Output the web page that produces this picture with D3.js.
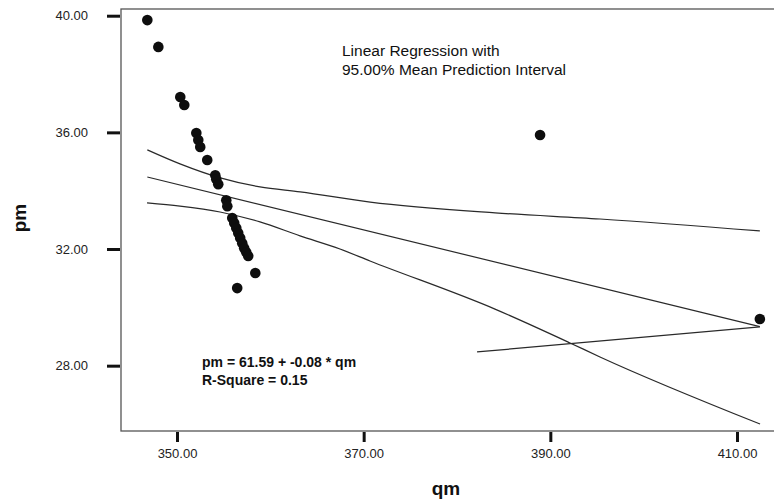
<!DOCTYPE html>
<html>
<head>
<meta charset="utf-8">
<script src="https://cdn.jsdelivr.net/npm/d3@7/dist/d3.min.js"></script>
<style>
  html, body { margin: 0; padding: 0; background: #fff; }
  svg { display: block; font-family: "Liberation Sans", Arial, sans-serif; }
</style>
</head>
<body>
<svg id="chart" width="774" height="503"></svg>
<script>
// Observations
const qmValues = [346.82, 348.00, 350.35, 350.78, 352.07, 352.28, 352.49, 353.24,
  354.10, 354.21, 354.42, 355.28, 355.39,
  355.92, 356.13, 356.35, 356.56, 356.77, 356.99, 357.20, 357.42, 357.63,
  358.39, 356.45, 388.90, 412.45];
const pmValues = [39.85, 38.93, 37.21, 36.94, 35.98, 35.74, 35.50, 35.05,
  34.53, 34.39, 34.22, 33.67, 33.47,
  33.06, 32.89, 32.72, 32.55, 32.38, 32.20, 32.03, 31.89, 31.76,
  31.18, 30.66, 35.91, 29.60];

// Fitted line pm = a + b * qm
const intercept = 61.59;
const slope = -0.0782;
const rSquare = 0.15;

// 95% mean prediction interval bounds
const upperQm = [346.82, 350.32, 354.64, 358.89, 363.20, 370.70, 384.08, 395.32, 412.45];
const upperPm = [35.40, 34.92, 34.44, 34.13, 33.96, 33.61, 33.24, 33.03, 32.62];
const lowerQm = [346.79, 350.32, 354.61, 358.89, 363.18, 367.46, 370.68, 384.07, 392.11, 395.32, 412.47];
const lowerPm = [33.58, 33.47, 33.27, 32.93, 32.45, 32.00, 31.59, 29.94, 28.78, 28.30, 26.00];

// Extra closing segment of the interval path
const closeQm = [382.15, 412.45];
const closePm = [28.47, 29.33];

// Axis ticks
const xTicks = [350, 370, 390, 410];
const yTicks = [28, 32, 36, 40];

const svg = d3.select("#chart");
const frame = { left: 121, right: 779, top: 9, bottom: 431 };

const x = d3.scaleLinear().domain([344.0, 414.5]).range([frame.left, frame.right]);
const y = d3.scaleLinear().domain([25.76, 40.23]).range([frame.bottom, frame.top]);

const ink = "#2a2a2a";

// Plot frame
svg.append("rect")
  .attr("x", frame.left).attr("y", frame.top)
  .attr("width", frame.right - frame.left).attr("height", frame.bottom - frame.top)
  .attr("fill", "none").attr("stroke", "#555").attr("stroke-width", 1.3);

// Y axis
const yAxis = svg.append("g")
  .attr("transform", `translate(${frame.left},0)`)
  .call(d3.axisLeft(y).tickValues(yTicks).tickFormat(d3.format(".2f"))
    .tickSize(14).tickPadding(19));
yAxis.select(".domain").remove();
yAxis.selectAll(".tick line").attr("stroke", "#111").attr("stroke-width", 3)
  .attr("x2", -14).attr("x1", -1);
yAxis.selectAll(".tick text").attr("font-size", 13).attr("fill", "#222")
  .attr("font-family", "Liberation Sans, Arial, sans-serif");

// X axis
const xAxis = svg.append("g")
  .attr("transform", `translate(0,${frame.bottom})`)
  .call(d3.axisBottom(x).tickValues(xTicks).tickFormat(d3.format(".2f"))
    .tickSize(11).tickPadding(7));
xAxis.select(".domain").remove();
xAxis.selectAll(".tick line").attr("stroke", "#111").attr("stroke-width", 3)
  .attr("y1", 1);
xAxis.selectAll(".tick text").attr("font-size", 13).attr("fill", "#222")
  .attr("font-family", "Liberation Sans, Arial, sans-serif");

// Axis titles
svg.append("text")
  .attr("x", 446).attr("y", 495)
  .attr("text-anchor", "middle")
  .attr("font-size", 19).attr("font-weight", "bold").attr("fill", "#111")
  .text("qm");
svg.append("text")
  .attr("transform", "translate(26,218) rotate(-90)")
  .attr("text-anchor", "middle")
  .attr("font-size", 19).attr("font-weight", "bold").attr("fill", "#111")
  .text("pm");

// Regression and interval lines
const line = d3.line().x(d => x(d[0])).y(d => y(d[1])).curve(d3.curveMonotoneX);
const zip = (a, b) => a.map((v, i) => [v, b[i]]);

const qmMin = d3.min(qmValues), qmMax = d3.max(qmValues);
const fitPts = [qmMin, qmMax].map(q => [q, intercept + slope * q]);

const lines = svg.append("g").attr("fill", "none").attr("stroke", ink).attr("stroke-width", 1.2);
lines.append("path").attr("d", line(zip(upperQm, upperPm)));
lines.append("path").attr("d", line(fitPts));
lines.append("path").attr("d", line(zip(lowerQm, lowerPm)));
lines.append("path").attr("d", d3.line().x(d => x(d[0])).y(d => y(d[1]))(zip(closeQm, closePm)));

// Points
svg.append("g").selectAll("circle")
  .data(zip(qmValues, pmValues))
  .join("circle")
  .attr("cx", d => x(d[0])).attr("cy", d => y(d[1]))
  .attr("r", 5.3).attr("fill", "#0e0e0e");

// Annotations
const note = svg.append("text").attr("font-size", 15.5).attr("fill", "#111");
note.append("tspan").attr("x", 342).attr("y", 56).text("Linear Regression with");
note.append("tspan").attr("x", 342).attr("y", 75).text("95.00% Mean Prediction Interval");

const eq = svg.append("text").attr("font-size", 14).attr("font-weight", "bold").attr("fill", "#111");
eq.append("tspan").attr("x", 202).attr("y", 367)
  .text(`pm = ${intercept.toFixed(2)} + ${slope.toFixed(2)} * qm`);
eq.append("tspan").attr("x", 202).attr("y", 385)
  .text(`R-Square = ${rSquare.toFixed(2)}`);
</script>
</body>
</html>
